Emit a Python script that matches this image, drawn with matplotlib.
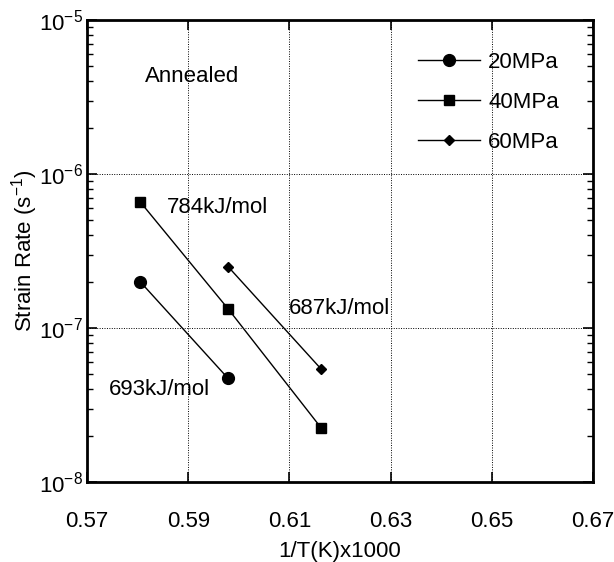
import matplotlib
matplotlib.use("Agg")
import matplotlib.pyplot as plt
from matplotlib.ticker import LogLocator, NullFormatter

plt.rcParams['font.family'] = ['Liberation Sans', 'DejaVu Sans']
plt.rcParams['mathtext.fontset'] = 'custom'
plt.rcParams['mathtext.rm'] = 'Liberation Sans'
plt.rcParams['mathtext.it'] = 'Liberation Sans'

x20 = [0.5805, 0.5979]
y20 = [2.0e-7, 4.7e-8]
x40 = [0.5805, 0.5979, 0.6163]
y40 = [6.6e-7, 1.33e-7, 2.24e-8]
x60 = [0.5979, 0.6163]
y60 = [2.5e-7, 5.4e-8]
xticks = [0.57, 0.59, 0.61, 0.63, 0.65, 0.67]
xticklabels = ['0.57', '0.59', '0.61', '0.63', '0.65', '0.67']
yticks = [1e-8, 1e-7, 1e-6, 1e-5]
yticklabels = ['$10^{-8}$', '$10^{-7}$', '$10^{-6}$', '$10^{-5}$']

FS = 16

fig = plt.figure(figsize=(6.14, 5.62), dpi=100)
ax = fig.add_axes([87/614, 1-482/562, (593-87)/614, (482-20)/562])

lw = 1.0
ax.plot(x20, y20, '-o', color='black', lw=lw, ms=8.5, label='20MPa')
ax.plot(x40, y40, '-s', color='black', lw=lw, ms=7.5, label='40MPa')
ax.plot(x60, y60, '-D', color='black', lw=lw, ms=5.5, label='60MPa')

ax.set_yscale('log')
ax.set_xlim(0.57, 0.67)
ax.set_ylim(1e-8, 1e-5)
ax.set_xticks(xticks)
ax.set_xticklabels(xticklabels)
ax.set_yticks(yticks)
ax.set_yticklabels(yticklabels)
ax.yaxis.set_minor_locator(LogLocator(base=10, subs=range(2, 10)))
ax.yaxis.set_minor_formatter(NullFormatter())

ax.tick_params(which='both', direction='in', top=True, right=True, labelsize=FS, colors='black')
ax.tick_params(which='major', length=7, width=1.2)
ax.tick_params(which='minor', length=4, width=1.0)
ax.tick_params(axis='x', which='major', pad=21)
ax.tick_params(axis='y', which='major', pad=3)
for s in ax.spines.values():
    s.set_linewidth(2.0)

ax.grid(True, which='major', linestyle=(0, (1, 1.5)), color='black', lw=0.7)

ax.set_xlabel('1/T(K)x1000', fontsize=FS, labelpad=6)
ax.set_ylabel('Strain Rate (s$^{-1}$)', fontsize=FS, labelpad=-1)

ax.text(0.5908, 4.3e-6, 'Annealed', fontsize=FS, ha='center', va='center')
ax.text(0.5858, 6.1e-7, '784kJ/mol', fontsize=FS, ha='left', va='center')
ax.text(0.6099, 1.33e-7, '687kJ/mol', fontsize=FS, ha='left', va='center')
ax.text(0.5743, 4.0e-8, '693kJ/mol', fontsize=FS, ha='left', va='center')

leg = ax.legend(loc='upper left', bbox_to_anchor=((418-87)/506, (482-52)/462), frameon=False,
                fontsize=FS, handlelength=2.8, handletextpad=0.36,
                labelspacing=0.85, numpoints=1, borderaxespad=0, borderpad=0)

fig.savefig('out.png', dpi=100)
